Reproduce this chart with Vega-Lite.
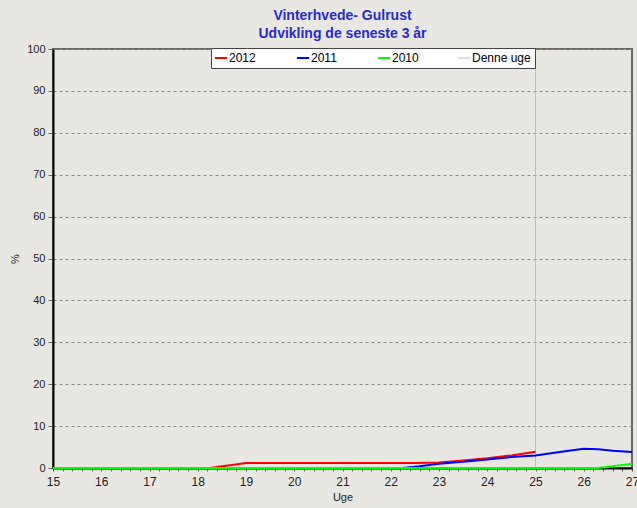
{
  "$schema": "https://vega.github.io/schema/vega-lite/v6.json",
  "autosize": "none",
  "width": 579,
  "height": 419,
  "padding": {"left": 53, "top": 49, "right": 5, "bottom": 40},
  "background": "#E9E7E1",
  "config": {
    "view": {"stroke": "#666666", "strokeWidth": 2},
    "font": "Liberation Sans"
  },
  "title": {
    "text": ["Vinterhvede- Gulrust", "Udvikling de seneste 3 år"],
    "font": "Liberation Sans",
    "fontSize": 14,
    "fontWeight": "bold",
    "color": "#2A2AD0",
    "anchor": "middle",
    "lineHeight": 18,
    "offset": 2
  },
  "datasets": {
    "series": [
      {"uge": 18.25, "pct": 0, "serie": "2012"},
      {"uge": 18.5, "pct": 0.4, "serie": "2012"},
      {"uge": 18.75, "pct": 0.8, "serie": "2012"},
      {"uge": 19, "pct": 1.2, "serie": "2012"},
      {"uge": 22.5, "pct": 1.2, "serie": "2012"},
      {"uge": 23, "pct": 1.3, "serie": "2012"},
      {"uge": 23.5, "pct": 1.8, "serie": "2012"},
      {"uge": 24, "pct": 2.3, "serie": "2012"},
      {"uge": 24.5, "pct": 3.0, "serie": "2012"},
      {"uge": 25, "pct": 3.9, "serie": "2012"},
      {"uge": 22.25, "pct": 0, "serie": "2011"},
      {"uge": 22.6, "pct": 0.4, "serie": "2011"},
      {"uge": 23, "pct": 1.0, "serie": "2011"},
      {"uge": 23.5, "pct": 1.5, "serie": "2011"},
      {"uge": 24, "pct": 2.0, "serie": "2011"},
      {"uge": 24.5, "pct": 2.6, "serie": "2011"},
      {"uge": 25, "pct": 3.0, "serie": "2011"},
      {"uge": 25.5, "pct": 3.8, "serie": "2011"},
      {"uge": 26, "pct": 4.6, "serie": "2011"},
      {"uge": 26.3, "pct": 4.5, "serie": "2011"},
      {"uge": 26.6, "pct": 4.1, "serie": "2011"},
      {"uge": 27, "pct": 3.8, "serie": "2011"},
      {"uge": 15, "pct": 0, "serie": "2010"},
      {"uge": 26.3, "pct": 0, "serie": "2010"},
      {"uge": 26.6, "pct": 0.4, "serie": "2010"},
      {"uge": 27, "pct": 1.0, "serie": "2010"}
    ],
    "now": [{"uge": 25, "serie": "Denne uge"}]
  },
  "layer": [
    {
      "data": {"name": "now"},
      "mark": {"type": "rule", "strokeWidth": 1},
      "encoding": {
        "x": {"field": "uge", "type": "quantitative"},
        "color": {"field": "serie", "type": "nominal"}
      }
    },
    {
      "data": {"name": "series"},
      "mark": {"type": "line", "strokeWidth": 2},
      "encoding": {
        "x": {
          "field": "uge",
          "type": "quantitative",
          "scale": {"domain": [15, 27], "nice": false, "zero": false},
          "axis": {
            "zindex": 0,
            "title": "Uge",
            "titleFont": "Liberation Sans",
            "titleFontSize": 11,
            "titleFontWeight": "normal",
            "titleColor": "#222222",
            "titlePadding": 4,
            "tickCount": 200,
            "values": [15,15.2,15.4,15.6,15.8,16,16.2,16.4,16.6,16.8,17,17.2,17.4,17.6,17.8,18,18.2,18.4,18.6,18.8,19,19.2,19.4,19.6,19.8,20,20.2,20.4,20.6,20.8,21,21.2,21.4,21.6,21.8,22,22.2,22.4,22.6,22.8,23,23.2,23.4,23.6,23.8,24,24.2,24.4,24.6,24.8,25,25.2,25.4,25.6,25.8,26,26.2,26.4,26.6,26.8,27],
            "labelExpr": "abs(datum.value - round(datum.value)) < 0.01 ? format(datum.value, 'd') : ''",
            "labelOverlap": false,
            "labelFont": "Liberation Sans",
            "labelFontSize": 12,
            "labelColor": "#222222",
            "labelPadding": 5,
            "labelFlush": false,
            "tickSize": 3,
            "tickColor": "#555555",
            "domainColor": "#000000",
            "domainWidth": 2,
            "grid": false
          }
        },
        "y": {
          "field": "pct",
          "type": "quantitative",
          "scale": {"domain": [0, 100], "nice": false},
          "axis": {
            "zindex": 0,
            "title": "%",
            "titleFont": "Liberation Sans",
            "titleFontSize": 11,
            "titleFontWeight": "normal",
            "titleColor": "#222222",
            "titlePadding": 6,
            "tickCount": 20,
            "values": [0,10,20,30,40,50,60,70,80,90,100],
            "labelFont": "Liberation Sans",
            "labelFontSize": 11,
            "labelColor": "#222222",
            "labelPadding": 3,
            "tickSize": 5,
            "tickColor": "#666666",
            "domainColor": "#000000",
            "domainWidth": 2,
            "grid": true,
            "gridDash": [3, 3],
            "gridColor": "#888888",
            "gridWidth": 1
          }
        },
        "color": {
          "field": "serie",
          "type": "nominal",
          "scale": {
            "domain": ["2012", "2011", "2010", "Denne uge"],
            "range": ["#FF0000", "#0000FF", "#00FF00", "#BBBBBB"]
          },
          "legend": {
            "title": null,
            "orient": "none",
            "legendX": 158,
            "legendY": -1,
            "direction": "horizontal",
            "fillColor": "#FFFFFF",
            "strokeColor": "#444444",
            "padding": 4,
            "symbolType": "stroke",
            "symbolSize": 150,
            "symbolStrokeWidth": 2,
            "labelFont": "Liberation Sans",
            "labelFontSize": 12,
            "labelColor": "#000000",
            "labelOffset": 2,
            "columnPadding": 36,
            "encode": {
              "symbols": {
                "update": {
                  "strokeWidth": {"signal": "datum.value === 'Denne uge' ? 1 : 2"}
                }
              }
            }
          }
        }
      }
    }
  ]
}
